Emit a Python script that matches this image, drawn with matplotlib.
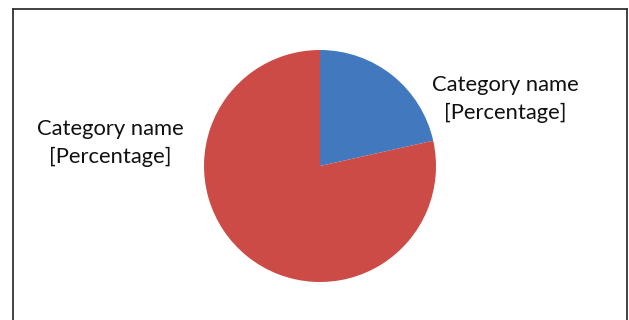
import matplotlib
matplotlib.use("Agg")
import matplotlib.pyplot as plt
from matplotlib.lines import Line2D

categories = ["Category name\n[Percentage]", "Category name\n[Percentage]"]
values = [21.5, 78.5]
colors = ["#4279BE", "#CD4B46"]

W, H = 629, 320
fig = plt.figure(figsize=(W / 100, H / 100), dpi=100)
fig.patch.set_facecolor("white")

# frame
def px(x, y):
    return x / W, 1 - y / H
for (x0, y0, x1, y1) in [(12.5, 9, 627, 9), (12.5, 9, 12.5, 325), (627, 9, 627, 325)]:
    a, b = px(x0, y0)
    c, d = px(x1, y1)
    fig.add_artist(Line2D([a, c], [b, d], color="#333333", lw=1.3, transform=fig.transFigure))

cx, cy, r = 320, 166, 116
ax = fig.add_axes([(cx - r) / W, (H - cy - r) / H, 2 * r / W, 2 * r / H])
ax.pie(values, colors=colors, startangle=90, counterclock=False, radius=1,
       wedgeprops=dict(linewidth=0))
ax.set_xlim(-1, 1)
ax.set_ylim(-1, 1)
ax.set_aspect("auto")
ax.axis("off")

label_pos = [((505 - cx) / r, (cy - 99) / r), ((110 - cx) / r, (cy - 143) / r)]
for lab, (x, y) in zip(categories, label_pos):
    ax.text(x, y, lab, ha="center", va="center", fontsize=15.8, family="Lato",
            color="#111111", linespacing=1.5, clip_on=False)

fig.savefig("out.png", dpi=100, facecolor="white")
